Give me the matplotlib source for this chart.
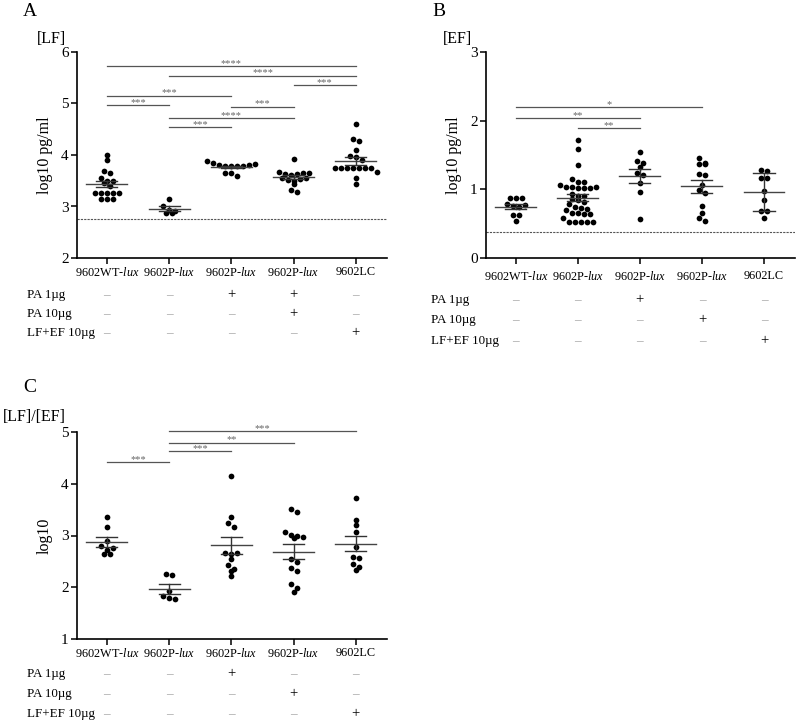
import numpy as np
import matplotlib
matplotlib.use("Agg")
import matplotlib.pyplot as plt
from matplotlib.transforms import blended_transform_factory

plt.rcParams['font.family'] = ['Liberation Serif', 'DejaVu Serif']
plt.rcParams['mathtext.fontset'] = 'custom'
plt.rcParams['mathtext.rm'] = 'Liberation Serif'
plt.rcParams['mathtext.it'] = 'Liberation Serif:italic'

# ---------------- data ----------------
categories = ['9602WT-$\\mathit{lux}$', '9602P-$\\mathit{lux}$', '9602P-$\\mathit{lux}$',
              '9602P-$\\mathit{lux}$', '9602LC']
row_names = ['PA 1µg', 'PA 10µg', 'LF+EF 10µg']

A_vals = [
    [4.00, 3.90, 3.68, 3.65, 3.56, 3.49, 3.49, 3.45, 3.39, 3.27, 3.27, 3.27, 3.27, 3.27, 3.14, 3.14, 3.14],
    [3.15, 3.01, 2.94, 2.92, 2.87, 2.87],
    [3.88, 3.84, 3.81, 3.79, 3.79, 3.79, 3.79, 3.80, 3.82, 3.66, 3.66, 3.60],
    [3.92, 3.67, 3.64, 3.62, 3.64, 3.65, 3.66, 3.55, 3.52, 3.50, 3.54, 3.55, 3.43, 3.33, 3.28],
    [4.61, 4.31, 4.27, 4.10, 3.98, 3.97, 3.90, 3.75, 3.75, 3.75, 3.75, 3.75, 3.75, 3.75, 3.67, 3.56, 3.44],
]
A_err = ['sem', 'sem', 'sem', 'sem', 'sem']
A_lod = 2.75
A_sig = [(0, 4, 5.73, '****'), (1, 4, 5.54, '****'), (3, 4, 5.36, '***'),
         (0, 2, 5.15, '***'), (0, 1, 4.97, '***'), (2, 3, 4.94, '***'),
         (1, 3, 4.72, '****'), (1, 2, 4.54, '***')]
A_rows = [['-', '-', '+', '+', '-'], ['-', '-', '-', '+', '-'], ['-', '-', '-', '-', '+']]

B_vals = [
    [0.87, 0.87, 0.87, 0.79, 0.76, 0.74, 0.77, 0.63, 0.62, 0.54],
    [1.72, 1.59, 1.35, 1.15, 1.10, 1.10, 1.07, 1.03, 1.03, 1.02, 1.02, 1.02, 1.03,
     0.93, 0.91, 0.90, 0.86, 0.85, 0.82, 0.78, 0.74, 0.73, 0.72, 0.70,
     0.66, 0.65, 0.64, 0.64, 0.58, 0.52, 0.52, 0.52, 0.52, 0.52],
    [1.54, 1.41, 1.38, 1.33, 1.24, 1.21, 1.09, 0.96, 0.57],
    [1.45, 1.39, 1.37, 1.37, 1.23, 1.21, 1.07, 0.99, 0.95, 0.76, 0.65, 0.58, 0.54],
    [1.28, 1.27, 1.17, 1.16, 0.97, 0.85, 0.69, 0.68, 0.58],
]
B_err = ['sem', 'sem', 'sem', 'sem', 'sd']
B_lod = 0.38
B_sig = [(0, 3, 2.20, '*'), (0, 2, 2.04, '**'), (1, 2, 1.89, '**')]
B_rows = [['-', '-', '+', '-', '-'], ['-', '-', '-', '+', '-'], ['-', '-', '-', '-', '+']]

C_vals = [
    [3.36, 3.16, 2.90, 2.80, 2.72, 2.75, 2.64, 2.64],
    [2.26, 2.24, 1.93, 1.83, 1.79, 1.77],
    [4.15, 3.35, 3.25, 3.17, 2.67, 2.64, 2.67, 2.54, 2.43, 2.36, 2.32, 2.22],
    [3.52, 3.45, 3.07, 3.01, 3.00, 2.98, 2.96, 2.54, 2.49, 2.38, 2.32, 2.06, 1.98, 1.90],
    [3.73, 3.30, 3.20, 3.07, 2.78, 2.59, 2.57, 2.45, 2.40, 2.33],
]
C_err = ['sem', 'sem', 'sem', 'sem', 'sem']
C_sig = [(1, 4, 5.02, '***'), (1, 3, 4.79, '**'), (1, 2, 4.63, '***'), (0, 1, 4.42, '***')]
C_rows = [['-', '-', '+', '-', '-'], ['-', '-', '-', '+', '-'], ['-', '-', '-', '-', '+']]

# ---------------- figure ----------------
W, H = 797, 722
fig = plt.figure(figsize=(W / 100, H / 100), dpi=100)


def px_axes(l, r, t, b):
    return fig.add_axes([l / W, 1 - b / H, (r - l) / W, (b - t) / H])


def swarm(ax, x0, vals, d=6.0):
    vals = np.asarray(vals, float)
    ypx = ax.transData.transform(np.column_stack([np.zeros(len(vals)), vals]))[:, 1]
    xscale = ax.transData.transform([[1, 0]])[0, 0] - ax.transData.transform([[0, 0]])[0, 0]
    order = np.argsort(-ypx)
    xs = np.zeros(len(vals))
    rows = []
    cur = [order[0]]
    for i in order[1:]:
        if ypx[cur[0]] - ypx[i] < d * 0.8:
            cur.append(i)
        else:
            rows.append(cur)
            cur = [i]
    rows.append(cur)
    for r in rows:
        m = len(r)
        r_sorted = sorted(r)
        for k, i in enumerate(r_sorted):
            xs[i] = x0 + (k - (m - 1) / 2) * d / xscale
    return xs, vals


def panel(ax, vals, errs, ylim, yticks, sig, lod=None):
    ax.set_xlim(-0.48, 4.5)
    ax.set_ylim(*ylim)
    for s in ['top', 'right']:
        ax.spines[s].set_visible(False)
    for s in ['left', 'bottom']:
        ax.spines[s].set_linewidth(1.2)
    ax.set_yticks(yticks)
    ax.set_yticklabels([str(t) for t in yticks], fontsize=11)
    ax.set_xticks(range(5))
    ax.set_xticklabels(categories, fontsize=8.8)
    ax.tick_params(axis='both', length=4, width=1.1, pad=2, colors='black')
    if lod is not None:
        ax.axhline(lod, color='#555555', lw=0.8, ls=(0, (2, 1)), zorder=1)
    for i, v in enumerate(vals):
        v = np.asarray(v)
        xs, ys = swarm(ax, i, v)
        ax.scatter(xs, ys, s=17, color='black', zorder=3, linewidths=0)
        m = v.mean()
        e = v.std(ddof=1)
        if errs[i] == 'sem':
            e = e / np.sqrt(len(v))
        ax.plot([i - 0.33, i + 0.33], [m, m], color='#444444', lw=1.0, zorder=4)
        ax.plot([i - 0.17, i + 0.17], [m + e, m + e], color='#333333', lw=1.0, zorder=4)
        ax.plot([i - 0.17, i + 0.17], [m - e, m - e], color='#333333', lw=1.0, zorder=4)
        ax.plot([i, i], [m - e, m + e], color='#333333', lw=1.0, zorder=4)
    for a, b, y, txt in sig:
        ax.plot([a, b], [y, y], color='#555555', lw=0.9, clip_on=False)
        ax.annotate(txt, xy=((a + b) / 2, y), xytext=(0, 0.2), textcoords='offset points',
                    ha='center', va='baseline', fontsize=7.5, color='#666666',
                    annotation_clip=False)


def rows_block(ax, rows, label_x, ys_px):
    tr = blended_transform_factory(ax.transData, fig.transFigure)
    for name, marks, ypx in zip(row_names, rows, ys_px):
        fig.text(label_x / W, 1 - ypx / H, name, fontsize=9.4, va='center', ha='left')
        for i, mk in enumerate(marks):
            if mk == '+':
                ax.text(i, 1 - ypx / H, '+', transform=tr, fontsize=10.5, ha='center',
                        va='center', color='black')
            else:
                ax.text(i, 1 - ypx / H, '–', transform=tr, fontsize=9.5, ha='center',
                        va='center', color='#999999')


axA = px_axes(77, 387, 52, 258)
panel(axA, A_vals, A_err, (2, 6), [2, 3, 4, 5, 6], A_sig, A_lod)
axA.set_ylabel('log10 pg/ml', fontsize=11.5, labelpad=6)
rows_block(axA, A_rows, 27, [295, 314, 333])
fig.text(23 / W, 1 - 12 / H, 'A', fontsize=14, va='center', ha='left')
fig.text(37 / W, 1 - 39 / H, '[LF]', fontsize=11.5, va='center', ha='left')

axB = px_axes(486, 795, 52, 258)
panel(axB, B_vals, B_err, (0, 3), [0, 1, 2, 3], B_sig, B_lod)
axB.tick_params(axis='x', pad=5)
axB.set_ylabel('log10 pg/ml', fontsize=11.5, labelpad=6)
rows_block(axB, B_rows, 431, [300, 320, 341])
fig.text(432 / W, 1 - 12 / H, 'B', fontsize=14, va='center', ha='left')
fig.text(443 / W, 1 - 39 / H, '[EF]', fontsize=11.5, va='center', ha='left')

axC = px_axes(77, 387, 432, 639)
panel(axC, C_vals, C_err, (1, 5), [1, 2, 3, 4, 5], C_sig)
axC.set_ylabel('log10', fontsize=11.5, labelpad=6)
rows_block(axC, C_rows, 27, [674, 694, 714])
fig.text(23 / W, 1 - 388 / H, 'C', fontsize=14, va='center', ha='left')
fig.text(3 / W, 1 - 417 / H, '[LF]/[EF]', fontsize=11.5, va='center', ha='left')

fig.savefig('out.png', dpi=100)
